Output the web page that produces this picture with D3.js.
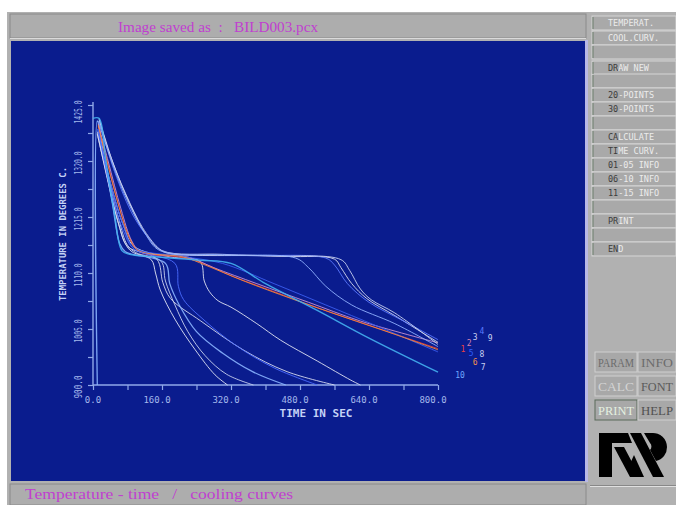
<!DOCTYPE html>
<html><head><meta charset="utf-8">
<script src="https://cdn.jsdelivr.net/npm/d3@7"></script>
<style>html,body{margin:0;padding:0;background:#fff;}svg{display:block}</style>
</head><body><svg id="c" width="676" height="505"></svg>
<script>
// ---- data ----
const xTickValues = [0,80,160,240,320,400,480,560,640,720,800];
const xLabelValues = [0,160,320,480,640,800];
const xTickLabels = ["0.0","160.0","320.0","480.0","640.0","800.0"];
const yTickValues = [900,952.5,1005,1057.5,1110,1162.5,1215,1267.5,1320,1372.5,1425];
const yLabelValues = [900,1005,1110,1215,1320,1425];
const yTickLabels = ["900.0","1005.0","1110.0","1215.0","1320.0","1425.0"];

const curve01 = [[12,1385],[30,1330],[55,1250],[80,1185],[100,1155],[120,1146],[200,1140],[250,1130],[320,1105],[420,1075],[520,1045],[640,1012],[800,968]];
const curve02 = [[12,1390],[35,1320],[65,1230],[90,1170],[110,1150],[220,1140],[280,1120],[380,1090],[500,1055],[620,1020],[800,979]];
const curve03 = [[14,1400],[45,1320],[85,1240],[125,1180],[160,1152],[300,1145],[450,1141],[560,1136],[575,1120],[600,1090],[635,1062],[700,1030],[800,980]];
const curve04 = [[14,1395],[50,1300],[95,1215],[135,1170],[165,1150],[350,1143],[540,1138],[560,1125],[590,1090],[640,1055],[720,1020],[800,985]];
const curve05 = [[10,1380],[40,1280],[70,1200],[95,1158],[200,1142],[300,1128],[420,1090],[540,1050],[660,1010],[800,962]];
const curve06 = [[12,1388],[32,1320],[60,1235],[85,1175],[105,1152],[210,1140],[260,1125],[350,1095],[460,1062],[580,1028],[700,995],[800,966]];
const curve07 = [[10,1375],[40,1280],[70,1200],[95,1160],[180,1140],[248,1132],[258,1095],[270,1075],[290,1058],[320,1046],[380,1015],[435,984],[520,945],[598,909],[620,900]];
const curve08 = [[14,1398],[40,1330],[75,1260],[115,1195],[150,1158],[170,1148],[400,1142],[575,1135],[595,1115],[620,1080],[645,1060],[700,1035],[800,976]];
const curve09 = [[12,1395],[45,1315],[80,1245],[120,1185],[155,1152],[300,1144],[470,1138],[500,1120],[540,1085],[600,1050],[700,1015],[800,972]];
const curve10 = [[0,1400],[14,1400],[30,1320],[50,1220],[67,1152],[85,1145],[150,1140],[250,1134],[320,1128],[400,1090],[520,1040],[640,988],[800,924]];
const curve11 = [[10,1370],[30,1300],[55,1215],[75,1165],[90,1150],[135,1135],[145,1110],[156,1078],[191,1022],[237,966],[283,919],[312,900]];
const curve12 = [[12,1375],[35,1290],[60,1210],[80,1162],[100,1148],[158,1132],[168,1095],[190,1050],[220,1000],[260,955],[310,920],[372,900]];
const curve13 = [[10,900],[10,1395],[25,1330],[45,1240],[62,1165],[75,1150],[168,1128],[178,1090],[200,1050],[240,1000],[300,960],[370,925],[447,900]];
const curve14 = [[12,1380],[40,1270],[70,1190],[95,1155],[190,1128],[198,1085],[210,1060],[260,1020],[330,975],[420,932],[520,900]];
const curve15 = [[10,1372],[35,1280],[60,1200],[80,1160],[148,1136],[162,1092],[180,1062],[250,1020],[350,965],[450,925],[560,900]];
const curves = [curve01,curve02,curve03,curve04,curve05,curve06,curve07,curve08,curve09,curve10,curve11,curve12,curve13,curve14,curve15];
const curveColors = ["#e83a3a","#c890d0","#d8dcf0","#5a78ff","#3a5cf0","#f08840","#dfe2f2","#c8d0f0","#90b0ff","#44b0f0","#e0e4f4","#c8d0ee","#8ab4ff","#4a6cff","#d4d8f0"];
const curveWidths = [1,1,1,1,1,1,1,1,1,1.4,1,1,1.3,1,1];

const endLabels = ["1","2","3","4","9","8","5","6","7","10"];
const endLabelT = [858,872,886,902,921,902,877,886,905,851];
const endLabelV = [967,979,990,1001,988,958,960,943,934,919];
const endLabelColors = ["#e84040","#d080b0","#c8d0f0","#5a7aff","#c8d0f0","#c8d0f0","#3060ff","#f09050","#c8d0f0","#70a8ff"];

const menuRows = [["TEMPERAT.",0],["COOL.CURV.",0],["",0],["DRAW NEW",2],["",0],["20-POINTS",2],["30-POINTS",2],["",0],["CALCULATE",2],["TIME CURV.",2],["01-05 INFO",2],["06-10 INFO",2],["11-15 INFO",2],["",0],["PRINT",2],["",0],["END",2]];
const menuY = [23,38,52,68,81,95,109,123,137,151,165,179,193,207,221,235,249];
const smallButtons = [["PARAM","#6c6c6c"],["INFO","#6c6c6c"],["CALC","#d4d4d4"],["FONT","#5a5a5a"],["PRINT","#e4f0e0"],["HELP","#505050"]];

// ---- drawing ----
const svg = d3.select("#c");
svg.append("rect").attr("width",676).attr("height",505).attr("fill","#ffffff");
svg.append("rect").attr("x",7).attr("y",12).attr("width",669).attr("height",493).attr("fill","#b1b1b1");

// title bar
svg.append("rect").attr("x",10).attr("y",14).attr("width",576).attr("height",24).attr("fill","#adadad").attr("stroke","#8a8a8a");
svg.append("line").attr("x1",10).attr("x2",586).attr("y1",38.5).attr("y2",38.5).attr("stroke","#dadada");
svg.append("text").attr("x",118).attr("y",32).attr("fill","#c040d0")
  .attr("font-family","Liberation Serif").attr("font-size",14).style("white-space","pre")
  .attr("textLength",200).attr("lengthAdjust","spacingAndGlyphs")
  .text("Image saved as  :   BILD003.pcx");

// plot area
svg.append("rect").attr("x",11).attr("y",41).attr("width",574).attr("height",440).attr("fill","#0a1c8e");
svg.append("rect").attr("x",585).attr("y",40).attr("width",3).attr("height",442).attr("fill","#b8b8e6");

// bottom bar
svg.append("rect").attr("x",10).attr("y",484).attr("width",576).attr("height",21).attr("fill","#adadad").attr("stroke","#8a8a8a");
svg.append("text").attr("x",25).attr("y",499).attr("fill","#c040d0")
  .attr("font-family","Liberation Serif").attr("font-size",14).style("white-space","pre")
  .attr("textLength",268).attr("lengthAdjust","spacingAndGlyphs")
  .text("Temperature - time   /   cooling curves");

// scales
const x = d3.scaleLinear().domain([0,800]).range([93,438]);
const y = d3.scaleLinear().domain([900,1425]).range([385,105]);
const axisCol = "#90a8e8";
const g = svg.append("g");

// axes
const xAxis = g.append("g").attr("transform","translate(0,385)")
  .call(d3.axisBottom(x).tickValues(xTickValues).tickSize(5).tickFormat(""));
const yAxis = g.append("g").attr("transform","translate(93,0)")
  .call(d3.axisLeft(y).tickValues(yTickValues).tickSize(5).tickFormat(""));
[xAxis,yAxis].forEach(a=>{
  a.selectAll("path").attr("stroke",axisCol).attr("stroke-width",1.4);
  a.selectAll("line").attr("stroke",axisCol).attr("stroke-width",1.2);
});
yAxis.select("path").attr("d","M0,385V102");
xAxis.select("path").attr("d","M93,0H438");

g.selectAll(".xl").data(xLabelValues).join("text")
  .attr("x",d=>x(d)-(d===0?0:5)).attr("y",403).attr("text-anchor","middle")
  .attr("fill","#a4b8ec").attr("font-family","DejaVu Sans Mono").attr("font-size",9)
  .text((d,i)=>xTickLabels[i]);
g.selectAll(".yl").data(yLabelValues).join("text")
  .attr("transform",d=>`translate(82,${y(d)+(d===1425?7:2)}) rotate(-90)`).attr("text-anchor","middle")
  .attr("fill","#a4b8ec").attr("font-family","DejaVu Sans Mono").attr("font-size",10.5)
  .attr("textLength",23).attr("lengthAdjust","spacingAndGlyphs")
  .text((d,i)=>yTickLabels[i]);
g.append("text").attr("x",316).attr("y",417).attr("text-anchor","middle")
  .attr("fill","#c4d2f6").attr("font-family","DejaVu Sans Mono").attr("font-size",11)
  .attr("font-weight","bold").text("TIME IN SEC");
g.append("text").attr("transform","translate(66,234) rotate(-90)").attr("text-anchor","middle")
  .attr("fill","#c4d2f6").attr("font-family","DejaVu Sans Mono").attr("font-size",9)
  .attr("font-weight","bold").attr("textLength",134).attr("lengthAdjust","spacingAndGlyphs")
  .text("TEMPERATURE IN DEGREES C.");

// curves
const line = d3.line().x(d=>x(d[0])).y(d=>y(d[1])).curve(d3.curveCatmullRom.alpha(0.5));
const order = [10,11,14,6,12,0,1,4,5,13,2,3,7,8,9];
g.selectAll(".crv").data(order).join("path")
  .attr("d",i=>line(curves[i])).attr("fill","none")
  .attr("stroke",i=>curveColors[i]).attr("stroke-width",i=>curveWidths[i])
  .attr("stroke-opacity",0.9);

// end labels
g.selectAll(".el").data(endLabels).join("text")
  .attr("x",(d,i)=>x(endLabelT[i])).attr("y",(d,i)=>y(endLabelV[i])+3)
  .attr("text-anchor","middle").attr("fill",(d,i)=>endLabelColors[i])
  .attr("font-family","DejaVu Sans Mono").attr("font-size",8).text(d=>d);

// right menu
const menu = svg.append("g");
menu.selectAll("rect").data(menuY).join("rect")
  .attr("x",592).attr("y",d=>d-7).attr("width",84).attr("height",14)
  .attr("fill","#a9a9a9").attr("stroke","#d6d6d6").attr("stroke-width",1);
menu.selectAll(".ml").data(menuY).join("line")
  .attr("x1",593).attr("x2",593).attr("y1",d=>d-6).attr("y2",d=>d+6).attr("stroke","#6d7f6d");
const mt = menu.selectAll("text").data(menuRows).join("text")
  .attr("x",608).attr("y",(d,i)=>menuY[i]+3)
  .attr("font-family","DejaVu Sans Mono").attr("font-size",8.5);
mt.each(function(d){
  const t = d3.select(this);
  t.append("tspan").attr("fill","#3c3c3c").text(d[0].slice(0,d[1]));
  t.append("tspan").attr("fill","#ececec").text(d[0].slice(d[1]));
});

// small buttons
const bx = [595,638], byy = [352,376,400];
smallButtons.forEach((b,i)=>{
  const cx = bx[i%2], cy = byy[Math.floor(i/2)];
  const w = i%2===0 ? 42 : 38;
  svg.append("rect").attr("x",cx).attr("y",cy).attr("width",w).attr("height",20)
    .attr("fill","#a8a8a8").attr("stroke",i===4?"#5a6a5a":"#d0d0d0");
  svg.append("text").attr("x",cx+w/2).attr("y",cy+15).attr("text-anchor","middle")
    .attr("font-family","Liberation Serif").attr("font-size",12).attr("fill",b[1])
    .attr("textLength",w-6).attr("lengthAdjust","spacingAndGlyphs").text(b[0]);
});

// logo
const logo = svg.append("g").attr("fill","#000");
logo.append("path").attr("d","M599,433H628L632,443H612V477H599Z");
logo.append("path").attr("d","M614,447H624L640,477H630Z");
logo.append("path").attr("d","M630,433H641L664,477H653Z");
logo.append("path").attr("d","M617,433H626L629,440H620Z");
logo.append("path").attr("d","M644,433H652A14,14 0 0 1 667,447A14,14 0 0 1 656,461L650,450A5,5 0 0 0 650,443Z");
logo.append("path").attr("d","M634,455L644,477H634L629,466Z");
svg.append("line").attr("x1",590).attr("x2",676).attr("y1",486.5).attr("y2",486.5).attr("stroke","#e0e0e0");
svg.append("line").attr("x1",590).attr("x2",676).attr("y1",485.5).attr("y2",485.5).attr("stroke","#888");
</script></body></html>
